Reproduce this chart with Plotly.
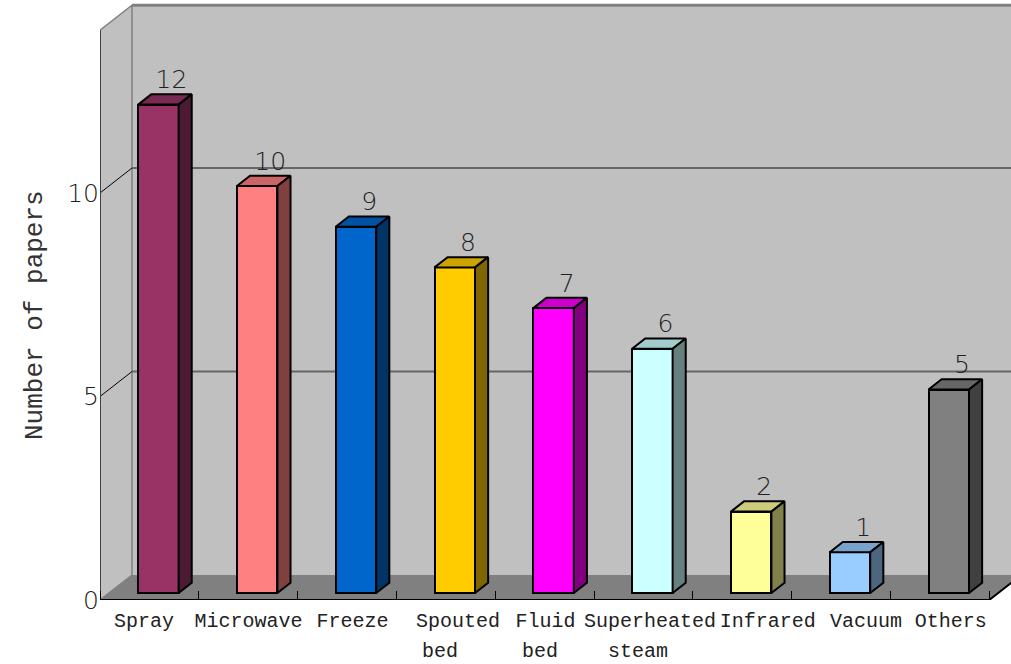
import plotly.graph_objects as go

# ---------------- data ----------------
categories = ["Spray", "Microwave", "Freeze", "Spouted bed", "Fluid bed",
              "Superheated steam", "Infrared", "Vacuum", "Others"]
label_line1 = ["Spray", "Microwave", "Freeze", "Spouted", "Fluid",
               "Superheated", "Infrared", "Vacuum", "Others"]
label_line2 = ["", "", "", "bed", "bed", "steam", "", "", ""]
papers = [12, 10, 9, 8, 7, 6, 2, 1, 5]
front_colors = ["#993366", "#FF8080", "#0066CC", "#FFCC00", "#FF00FF",
                "#CCFFFF", "#FFFF99", "#99CCFF", "#808080"]
top_colors = ["#7A2952", "#CC6666", "#0052A3", "#CCA300", "#CC00CC",
              "#A3CCCC", "#CCCC7A", "#7AA3CC", "#666666"]
side_colors = ["#4D1A33", "#804040", "#003366", "#806600", "#800080",
               "#668080", "#80804D", "#4D6680", "#404040"]
y_ticks = [0, 5, 10]
y_wall_max = 14

# ---------------- layout constants ----------------
PX_CAT = 98.8          # pixels per category
PX_VAL = 40.7          # pixels per value unit
DEPTH_X = 32 / PX_CAT  # depth offset in category units
DEPTH_Y = 25 / PX_VAL  # depth offset in value units
BAR_D0, BAR_D1 = 0.28, 0.69
BAR_W = 0.41
PLOT_W, PLOT_H = 911, 600
X_RANGE = [0, PLOT_W / PX_CAT]
Y_RANGE = [0, PLOT_H / PX_VAL]
n = len(categories)
# horizontal shifts (px) of the category label lines from the category centres
LINE1_SHIFT = [-5.4, 0.3, 5.6, 12.2, 0.9, 6.6, 25.5, 25.0, 11.0]
LINE2_SHIFT = [0, 0, 0, -6.3, -5.1, -5.4, 0, 0, 0]

MONO = "Courier New, Liberation Mono, monospace"
SANS = "DejaVu Sans"


def proj(x, y, d):
    return x + d * DEPTH_X, y + d * DEPTH_Y


def path(points):
    return "M " + " L ".join(f"{px},{py}" for px, py in points) + " Z"


shapes = []
# back wall
bx0, by0 = proj(0, 0, 1)
bx1, by1 = proj(n + 0.5, y_wall_max, 1)
shapes.append(dict(type="rect", xref="x", yref="y", x0=bx0, y0=by0, x1=bx1, y1=by1,
                   fillcolor="#C0C0C0", line=dict(width=0), layer="below"))
# left wall
shapes.append(dict(type="path", xref="x", yref="y", layer="below",
                   path=path([(0, 0), (0, y_wall_max), proj(0, y_wall_max, 1), proj(0, 0, 1)]),
                   fillcolor="#C0C0C0", line=dict(color="#808080", width=1.5)))
# floor
shapes.append(dict(type="path", xref="x", yref="y", layer="below",
                   path=path([(0, 0), (n, 0), proj(n, 0, 1), proj(0, 0, 1)]),
                   fillcolor="#808080", line=dict(width=0)))
# back wall top edge
shapes.append(dict(type="line", xref="x", yref="y", layer="below",
                   x0=bx0, y0=by1, x1=bx1, y1=by1, line=dict(color="#808080", width=3)))
# gridlines
for v in y_ticks[1:]:
    gx, gy = proj(0, v, 1)
    shapes.append(dict(type="line", xref="x", yref="y", layer="below",
                       x0=gx, y0=gy, x1=bx1, y1=gy, line=dict(color="#666666", width=2)))
    shapes.append(dict(type="line", xref="x", yref="y", layer="below",
                       x0=0, y0=v, x1=gx, y1=gy, line=dict(color="#000000", width=1)))
# left axis edge
shapes.append(dict(type="line", xref="x", yref="y", layer="below",
                   x0=0, y0=0, x1=0, y1=y_wall_max, line=dict(color="#404040", width=2)))
# front floor edge
fx, fy = proj(n, 0, 1)
shapes.append(dict(type="path", xref="x", yref="y", layer="below",
                   path="M 0,0 L %s,0 L %s,%s" % (n, fx, fy),
                   line=dict(color="#000000", width=2)))

fig = go.Figure()

# front faces
bar_x = [i + 0.5 + BAR_D0 * DEPTH_X for i in range(n)]
fig.add_trace(go.Bar(
    x=bar_x, y=papers, base=BAR_D0 * DEPTH_Y, width=BAR_W,
    marker=dict(color=front_colors, line=dict(color="#000000", width=2)),
    hoverinfo="skip", showlegend=False))

# top and side faces
dd = BAR_D1 - BAR_D0
for i, v in enumerate(papers):
    xl = bar_x[i] - BAR_W / 2
    xr = bar_x[i] + BAR_W / 2
    b = BAR_D0 * DEPTH_Y
    top = [(xl, v + b), (xr, v + b), (xr + dd * DEPTH_X, v + b + dd * DEPTH_Y),
           (xl + dd * DEPTH_X, v + b + dd * DEPTH_Y), (xl, v + b)]
    side = [(xr, b), (xr, v + b), (xr + dd * DEPTH_X, v + b + dd * DEPTH_Y),
            (xr + dd * DEPTH_X, b + dd * DEPTH_Y), (xr, b)]
    for poly, col in ((top, top_colors[i]), (side, side_colors[i])):
        fig.add_trace(go.Scatter(
            x=[p[0] for p in poly], y=[p[1] for p in poly], mode="lines",
            fill="toself", fillcolor=col, line=dict(color="#000000", width=2),
            hoverinfo="skip", showlegend=False))

# value labels
lab_x = [bar_x[i] + dd * DEPTH_X for i in range(n)]
lab_y = [v + BAR_D1 * DEPTH_Y for v in papers]
fig.add_trace(go.Scatter(
    x=lab_x, y=lab_y, mode="text", text=[str(v) for v in papers],
    textposition="top center",
    textfont=dict(family=SANS, size=25, color="#222222", weight=200),
    hoverinfo="skip", showlegend=False, cliponaxis=False))

# axis title and second lines of category labels
annotations = [dict(text="Number of papers", xref="paper", yref="paper",
                    x=-65 / PLOT_W, y=(600 - 315) / PLOT_H, textangle=-90,
                    showarrow=False, xanchor="center", yanchor="middle",
                    font=dict(family=MONO, size=26, color="#333333"))]
for i, t in enumerate(label_line2):
    if t:
        annotations.append(dict(
            text=t, xref="x", yref="paper",
            x=i + 0.5 + LINE2_SHIFT[i] / PX_CAT,
            y=-51 / PLOT_H, showarrow=False, xanchor="center", yanchor="middle",
            font=dict(family=MONO, size=20, color="#222222")))

fig.update_layout(
    width=1011, height=664,
    margin=dict(l=100, r=0, t=0, b=64),
    paper_bgcolor="white", plot_bgcolor="white",
    shapes=shapes,
    xaxis=dict(range=X_RANGE,
               tickvals=[i + 0.5 + LINE1_SHIFT[i] / PX_CAT for i in range(n)],
               ticktext=label_line1, ticklabelstandoff=6,
               tickangle=0, ticks="", showgrid=False, zeroline=False, showline=False,
               automargin=False,
               tickfont=dict(family=MONO, size=20, color="#222222"),
               minor=dict(tickvals=list(range(n + 1)), ticks="inside", ticklen=9,
                          tickcolor="#000000", tickwidth=1, showgrid=False)),
    yaxis=dict(range=Y_RANGE, tickvals=y_ticks, ticks="", showgrid=False, zeroline=False,
               showline=False, automargin=False,
               tickfont=dict(family=SANS, size=25, color="#222222", weight=200)),
    annotations=annotations,
    bargap=0,
)

fig.write_html("out.html")
